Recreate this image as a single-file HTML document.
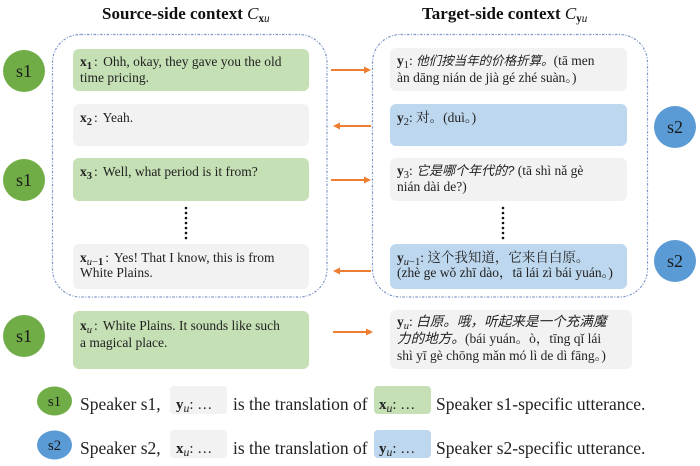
<!DOCTYPE html>
<html><head><meta charset="utf-8">
<style>
html,body{margin:0;padding:0;background:#fff;}
body{width:700px;height:466px;position:relative;overflow:hidden;}
.t{position:absolute;font-family:"Liberation Serif","Noto Serif CJK SC",serif;font-size:13.5px;line-height:15.5px;color:#222;white-space:nowrap;}
.t b{font-weight:bold;}
sub{font-size:78%;vertical-align:-3px;line-height:0;}
.c{margin-left:2px;margin-right:2px;}
.cs{font-family:"Liberation Sans","Noto Sans CJK SC",sans-serif;font-style:italic;font-size:12.5px;}
.cr{font-family:"Liberation Serif","Noto Serif CJK SC",serif;font-size:13.5px;}
.title{position:absolute;font-family:"Liberation Serif",serif;font-weight:bold;font-size:17px;line-height:20px;color:#111;white-space:nowrap;}
.lg{position:absolute;font-family:"Liberation Serif",serif;font-size:17.5px;line-height:20px;color:#222;white-space:nowrap;}
.lb{position:absolute;font-family:"Liberation Serif",serif;font-size:15px;line-height:20px;color:#222;white-space:nowrap;}
</style></head>
<body>
<svg width="700" height="466" style="position:absolute;left:0;top:0">
  <rect x="52.5" y="34.5" width="274.5" height="262.5" rx="28" fill="none" stroke="#7f96c8" stroke-width="1.2" stroke-dasharray="2.5,1.5,1,1.5"/>
  <rect x="372.5" y="34.5" width="275" height="262.5" rx="28" fill="none" stroke="#7f96c8" stroke-width="1.2" stroke-dasharray="2.5,1.5,1,1.5"/>
  <rect x="73" y="49" width="236" height="42" rx="6" fill="#c5e0b4"/>
  <rect x="73" y="104" width="236" height="42" rx="6" fill="#f2f2f2"/>
  <rect x="73" y="158" width="236" height="43" rx="6" fill="#c5e0b4"/>
  <rect x="73" y="244" width="236" height="45" rx="6" fill="#f2f2f2"/>
  <rect x="73" y="311" width="236" height="58" rx="6" fill="#c5e0b4"/>
  <rect x="390" y="48" width="237" height="43" rx="6" fill="#f2f2f2"/>
  <rect x="390" y="104" width="237" height="42" rx="6" fill="#bdd7ee"/>
  <rect x="390" y="158" width="237" height="43" rx="6" fill="#f2f2f2"/>
  <rect x="390" y="244" width="237" height="45" rx="6" fill="#bdd7ee"/>
  <rect x="390" y="310" width="242" height="59" rx="6" fill="#f2f2f2"/>
  <rect x="170" y="386" width="57" height="28" rx="4" fill="#f2f2f2"/>
  <rect x="374" y="386" width="57" height="28" rx="4" fill="#c5e0b4"/>
  <rect x="170" y="430" width="57" height="28" rx="4" fill="#f2f2f2"/>
  <rect x="374" y="430" width="57" height="28" rx="4" fill="#bdd7ee"/>
  <circle cx="24" cy="71" r="21" fill="#70ad47"/>
  <circle cx="24" cy="180" r="21" fill="#70ad47"/>
  <circle cx="24" cy="336" r="21" fill="#70ad47"/>
  <circle cx="675" cy="127" r="21" fill="#5b9bd5"/>
  <circle cx="675" cy="261" r="21" fill="#5b9bd5"/>
  <ellipse cx="54.5" cy="401" rx="17.5" ry="14.5" fill="#70ad47"/>
  <ellipse cx="54.5" cy="445" rx="17.5" ry="14.5" fill="#5b9bd5"/>
  <g font-family="Liberation Serif, serif" font-size="18" fill="#1a1a1a" text-anchor="middle">
    <text x="24" y="77">s1</text>
    <text x="24" y="186">s1</text>
    <text x="24" y="342">s1</text>
    <text x="675" y="133">s2</text>
    <text x="675" y="267">s2</text>
  </g>
  <g font-family="Liberation Serif, serif" font-size="15" fill="#1a1a1a" text-anchor="middle">
    <text x="54.5" y="406">s1</text>
    <text x="54.5" y="450">s2</text>
  </g>
  <g fill="#111">
    <circle cx="186" cy="208" r="1.3"/><circle cx="186" cy="213" r="1.3"/><circle cx="186" cy="218" r="1.3"/><circle cx="186" cy="223" r="1.3"/><circle cx="186" cy="228" r="1.3"/><circle cx="186" cy="233" r="1.3"/><circle cx="186" cy="238" r="1.3"/>
    <circle cx="503" cy="208" r="1.3"/><circle cx="503" cy="213" r="1.3"/><circle cx="503" cy="218" r="1.3"/><circle cx="503" cy="223" r="1.3"/><circle cx="503" cy="228" r="1.3"/><circle cx="503" cy="233" r="1.3"/><circle cx="503" cy="238" r="1.3"/>
  </g>
  <g stroke="#ed7d31" stroke-width="2" fill="none">
    <line x1="331" y1="70" x2="365" y2="70"/>
    <line x1="339" y1="126" x2="371" y2="126"/>
    <line x1="331" y1="180" x2="365" y2="180"/>
    <line x1="339" y1="271" x2="371" y2="271"/>
    <line x1="333" y1="332" x2="367" y2="332"/>
  </g>
  <g fill="#ed7d31">
    <polygon points="371,70 364,66.5 364,73.5"/>
    <polygon points="333,126 340,122.5 340,129.5"/>
    <polygon points="371,180 364,176.5 364,183.5"/>
    <polygon points="333,271 340,267.5 340,274.5"/>
    <polygon points="373,332 366,328.5 366,335.5"/>
  </g>
</svg>

<div class="title" style="left:102px;top:4px;">Source-side context <i style="font-weight:normal">C</i><sub style="font-size:65%"><b>x</b><i style="font-weight:normal">u</i></sub></div>
<div class="title" style="left:422px;top:4px;">Target-side context <i style="font-weight:normal">C</i><sub style="font-size:65%"><b>y</b><i style="font-weight:normal">u</i></sub></div>

<div class="t" style="left:80px;top:54px;"><b>x</b><sub><b>1</b></sub><span class="c">:</span> Ohh, okay, they gave you the old<br>time pricing.</div>
<div class="t" style="left:80px;top:110px;"><b>x</b><sub><b>2</b></sub><span class="c">:</span> Yeah.</div>
<div class="t" style="left:80px;top:164px;"><b>x</b><sub><b>3</b></sub><span class="c">:</span> Well, what period is it from?</div>
<div class="t" style="left:80px;top:250px;line-height:15px;"><b>x</b><sub><i>u</i>−<b>1</b></sub><span class="c">:</span> Yes! That I know, this is from<br>White Plains.</div>
<div class="t" style="left:80px;top:317px;line-height:17px;"><b>x</b><sub><i>u</i></sub><span class="c">:</span> White Plains. It sounds like such<br>a magical place.</div>

<div class="t" style="left:397px;top:53px;"><b>y</b><sub>1</sub>: <span class="cs">他们按当年的价格折算。</span>(tā men<br>àn dāng nián de jià gé zhé suàn。)</div>
<div class="t" style="left:397px;top:110px;"><b>y</b><sub>2</sub>: <span class="cr">对。</span>(duì。)</div>
<div class="t" style="left:397px;top:163px;"><b>y</b><sub>3</sub>: <span class="cs" style="font-size:13px">它是哪个年代的?</span> (tā shì nǎ gè<br>nián dài de?)</div>
<div class="t" style="left:397px;top:250px;line-height:15px;"><b>y</b><sub><i>u</i>−1</sub>: <span class="cr">这个我知道，它来自白原。</span><br>(zhè ge wǒ zhī dào，tā lái zì bái yuán。)</div>
<div class="t" style="left:397px;top:313px;line-height:17px;"><b>y</b><sub><i>u</i></sub>: <span class="cs" style="font-size:13.6px">白原。哦，听起来是一个充满魔</span><br><span class="cs" style="font-size:13.6px">力的地方。</span>(bái yuán。ò，tīng qǐ lái<br>shì yī gè chōng mǎn mó lì de dì fāng。)</div>

<div class="lg" style="left:80px;top:394px;">Speaker s1,</div>
<div class="lb" style="left:176px;top:395px;"><b>y</b><sub><i>u</i></sub>: …</div>
<div class="lg" style="left:233px;top:394px;">is the translation of</div>
<div class="lb" style="left:379px;top:395px;"><b>x</b><sub><i>u</i></sub>: …</div>
<div class="lg" style="left:436px;top:394px;">Speaker s1-specific utterance.</div>

<div class="lg" style="left:80px;top:438px;">Speaker s2,</div>
<div class="lb" style="left:176px;top:439px;"><b>x</b><sub><i>u</i></sub>: …</div>
<div class="lg" style="left:233px;top:438px;">is the translation of</div>
<div class="lb" style="left:379px;top:439px;"><b>y</b><sub><i>u</i></sub>: …</div>
<div class="lg" style="left:436px;top:438px;">Speaker s2-specific utterance.</div>
</body></html>
